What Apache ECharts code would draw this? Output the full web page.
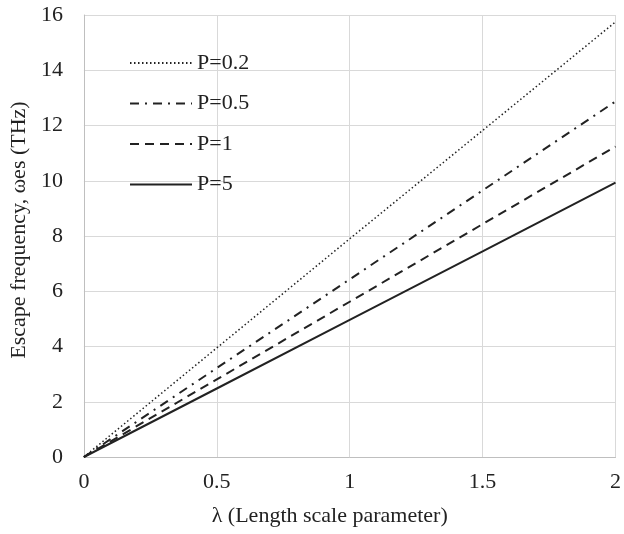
<!DOCTYPE html>
<html>
<head>
<meta charset="utf-8">
<script src="https://cdn.jsdelivr.net/npm/echarts@6/dist/echarts.min.js"></script>
<style>
html, body { margin: 0; padding: 0; background: #fff; }
#chart { width: 624px; height: 534px; }
</style>
</head>
<body>
<div id="chart"></div>
<script>
let lambda = [0, 0.5, 1, 1.5, 2];
let p02 = [0, 3.95, 7.9, 11.82, 15.75];
let p05 = [0, 3.22, 6.43, 9.65, 12.87];
let p1 = [0, 2.81, 5.62, 8.43, 11.24];
let p5 = [0, 2.48, 4.96, 7.44, 9.93];
let names = ['P=0.2', 'P=0.5', 'P=1', 'P=5'];

function pairs(ys) {
    return lambda.map(function (x, i) { return [x, ys[i]]; });
}

let font = 'Liberation Serif';

let option = {
    animation: false,
    textStyle: { fontFamily: font },
    grid: { left: 83, right: 7, top: 15, bottom: 77 },
    legend: {
        orient: 'vertical',
        left: 124,
        top: 47,
        itemWidth: 62,
        itemHeight: 14,
        itemGap: 18.5,
        data: names,
        itemStyle: { opacity: 0 },
        textStyle: { fontFamily: font, fontSize: 22, color: '#222' }
    },
    xAxis: {
        type: 'value',
        min: 0,
        max: 2,
        interval: 0.5,
        name: 'λ (Length scale parameter)',
        nameLocation: 'middle',
        nameGap: 48,
        nameTextStyle: { fontFamily: font, fontSize: 22, color: '#222', padding: [0, 40, 0, 0] },
        axisLine: { show: true, lineStyle: { color: '#bfbfbf' } },
        axisTick: { show: false },
        axisLabel: { fontSize: 22, color: '#222', margin: 14 },
        splitLine: { show: true, lineStyle: { color: '#d9d9d9', width: 1 } }
    },
    yAxis: {
        type: 'value',
        min: 0,
        max: 16,
        interval: 2,
        name: 'Escape frequency, ωes (THz)',
        nameLocation: 'middle',
        nameGap: 48,
        nameTextStyle: { fontFamily: font, fontSize: 22, color: '#222', padding: [0, 0, 0, 12] },
        axisLine: { show: true, lineStyle: { color: '#bfbfbf' } },
        axisTick: { show: false },
        axisLabel: { fontSize: 22, color: '#222', margin: 21 },
        splitLine: { show: true, lineStyle: { color: '#d9d9d9', width: 1 } }
    },
    series: [
        {
            name: 'P=0.2',
            type: 'line',
            symbol: 'none',
            data: pairs(p02),
            lineStyle: { color: '#222', width: 1.5, type: [1.5, 2.5] },
            itemStyle: { color: '#222' }
        },
        {
            name: 'P=0.5',
            type: 'line',
            symbol: 'none',
            data: pairs(p05),
            lineStyle: { color: '#222', width: 2, type: [9, 6, 2, 6] },
            itemStyle: { color: '#222' }
        },
        {
            name: 'P=1',
            type: 'line',
            symbol: 'none',
            data: pairs(p1),
            lineStyle: { color: '#222', width: 2, type: [9, 6] },
            itemStyle: { color: '#222' }
        },
        {
            name: 'P=5',
            type: 'line',
            symbol: 'none',
            data: pairs(p5),
            lineStyle: { color: '#222', width: 2, type: 'solid' },
            itemStyle: { color: '#222' }
        }
    ]
};

let chart = echarts.init(document.getElementById('chart'));
chart.setOption(option);
</script>
</body>
</html>
